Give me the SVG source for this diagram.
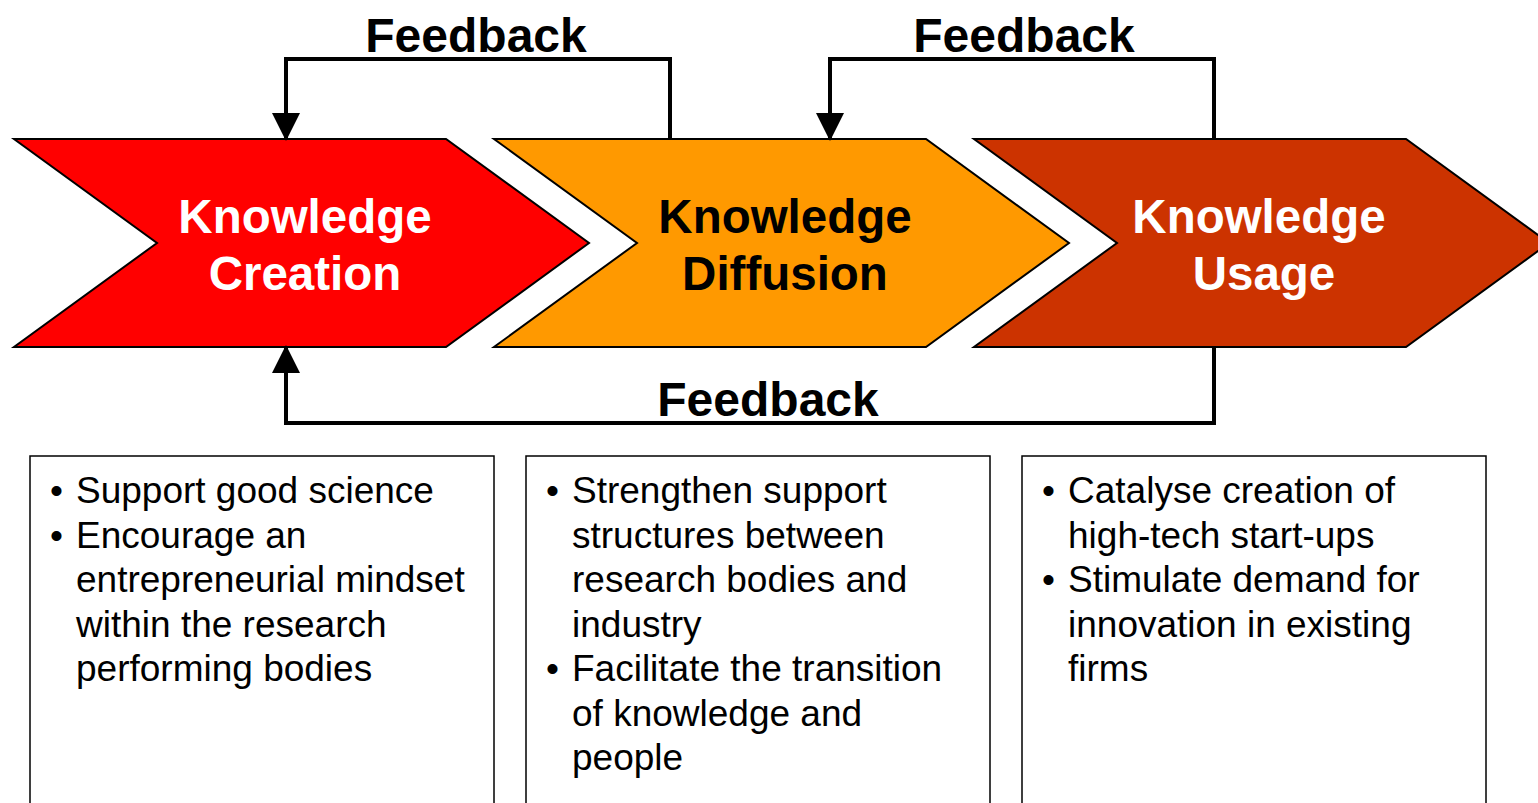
<svg xmlns="http://www.w3.org/2000/svg" width="1538" height="803" viewBox="0 0 1538 803">
<style>
.chev{stroke:#000;stroke-width:2;stroke-linejoin:miter}
.ct{font-family:"Liberation Sans",Arial,sans-serif;font-weight:bold;font-size:47.5px;text-anchor:middle}
.fb{font-family:"Liberation Sans",Arial,sans-serif;font-weight:bold;font-size:48px;text-anchor:middle;fill:#000}
.conn{fill:none;stroke:#000;stroke-width:4}
.box{fill:#fff;stroke:#000;stroke-width:1.5}
.bt{font-family:"Liberation Sans",Arial,sans-serif;font-size:37px;fill:#000}
</style>
<defs>
<marker id="ah" markerWidth="7" markerHeight="7" refX="6.5" refY="3.5" orient="auto" markerUnits="strokeWidth" viewBox="0 0 7 7">
<path d="M0,0 L7,3.5 L0,7 Z" fill="#000"/>
</marker>
</defs>
<rect width="1538" height="803" fill="#fff"/>
<g id="creation">
<polygon class="chev" fill="#FF0000" points="14,139 446,139 589,243 446,347 14,347 157,243"/>
<text class="ct" fill="#fff" x="305" y="233">Knowledge</text>
<text class="ct" fill="#fff" x="305" y="290">Creation</text>
</g>
<g id="diffusion">
<polygon class="chev" fill="#FF9900" points="494,139 926,139 1069,243 926,347 494,347 637,243"/>
<text class="ct" fill="#000" x="785" y="233">Knowledge</text>
<text class="ct" fill="#000" x="785" y="290">Diffusion</text>
</g>
<g id="usage">
<polygon class="chev" fill="#CC3300" points="974,139 1406,139 1549,243 1406,347 974,347 1117,243"/>
<text class="ct" fill="#fff" x="1259" y="233">Knowledge</text>
<text class="ct" fill="#fff" x="1264" y="290">Usage</text>
</g>
<g id="connectors">
<polyline class="conn" points="670,139 670,59 286,59 286,139" marker-end="url(#ah)"/>
<polyline class="conn" points="1214,139 1214,59 830,59 830,139" marker-end="url(#ah)"/>
<polyline class="conn" points="1214,347 1214,423 286,423 286,347" marker-end="url(#ah)"/>
<text class="fb" x="476" y="52">Feedback</text>
<text class="fb" x="1024" y="52">Feedback</text>
<text class="fb" x="768" y="416">Feedback</text>
</g>
<g id="box-creation">
<rect class="box" x="30" y="456" width="464" height="360"/>
<text class="bt" x="50" y="503">•</text>
<text class="bt" x="76" y="503">Support good science</text>
<text class="bt" x="50" y="548">•</text>
<text class="bt" x="76" y="548">Encourage an</text>
<text class="bt" x="76" y="592">entrepreneurial mindset</text>
<text class="bt" x="76" y="637">within the research</text>
<text class="bt" x="76" y="681">performing bodies</text>
</g>
<g id="box-diffusion">
<rect class="box" x="526" y="456" width="464" height="360"/>
<text class="bt" x="546" y="503">•</text>
<text class="bt" x="572" y="503">Strengthen support</text>
<text class="bt" x="572" y="548">structures between</text>
<text class="bt" x="572" y="592">research bodies and</text>
<text class="bt" x="572" y="637">industry</text>
<text class="bt" x="546" y="681">•</text>
<text class="bt" x="572" y="681">Facilitate the transition</text>
<text class="bt" x="572" y="726">of knowledge and</text>
<text class="bt" x="572" y="770">people</text>
</g>
<g id="box-usage">
<rect class="box" x="1022" y="456" width="464" height="360"/>
<text class="bt" x="1042" y="503">•</text>
<text class="bt" x="1068" y="503">Catalyse creation of</text>
<text class="bt" x="1068" y="548">high-tech start-ups</text>
<text class="bt" x="1042" y="592">•</text>
<text class="bt" x="1068" y="592">Stimulate demand for</text>
<text class="bt" x="1068" y="637">innovation in existing</text>
<text class="bt" x="1068" y="681">firms</text>
</g>
</svg>
